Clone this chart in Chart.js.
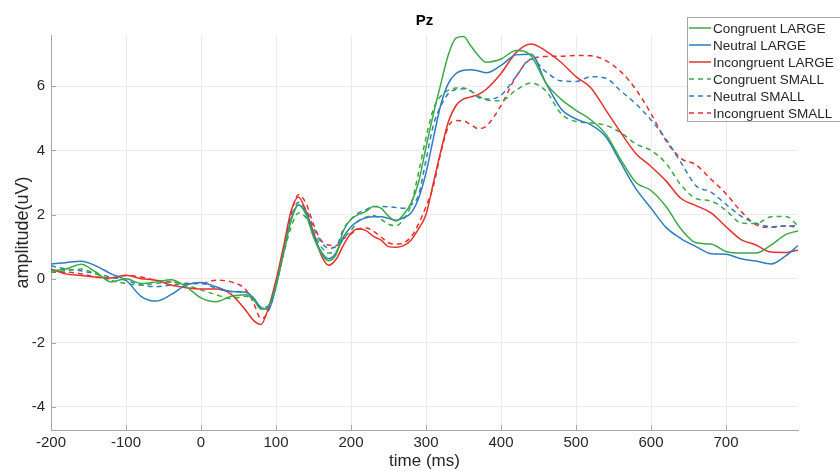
<!DOCTYPE html>
<html>
<head>
<meta charset="utf-8">
<script src="https://cdn.jsdelivr.net/npm/chart.js@4.4.1/dist/chart.umd.min.js"></script>
<style>
  html, body { margin: 0; padding: 0; background: #fff; }
  #wrap { width: 840px; height: 472px; }
</style>
</head>
<body>
<div id="wrap"><canvas id="erp" width="840" height="472"></canvas></div>
<script>
// Time axis (ms) shared by every waveform
const times = [-200, -180, -160, -140, -120, -100, -80, -60, -40, -20, 0, 20, 40, 60, 70, 80, 90,
  100, 110, 120, 130, 140, 150, 160, 170, 180, 190, 200, 210, 220, 230, 240, 250, 260, 270, 280, 290,
  300, 310, 320, 330, 340, 350, 360, 370, 380, 400, 420, 440, 460, 480, 500, 520, 540, 560, 580, 600,
  620, 640, 660, 680, 700, 720, 740, 760, 780, 796];

// Amplitudes (uV)
const congruentLarge = [0.25, 0.3, 0.45, 0.2, -0.1, 0.0, -0.15, -0.1, -0.03, -0.25, -0.6, -0.72, -0.55, -0.5, -0.65, -0.95, -0.85,
  -0.2, 0.8, 1.8, 2.3, 2.0, 1.3, 0.8, 0.56, 0.75, 1.5, 1.85, 2.0, 2.1, 2.25, 2.2, 1.95, 1.8, 2.0, 2.35, 3.0,
  4.1, 5.15, 6.1, 7.0, 7.5, 7.55, 7.25, 6.95, 6.75, 6.85, 7.12, 6.95, 6.1, 5.6, 5.25, 4.95, 4.5, 3.7, 3.0, 2.75,
  2.25, 1.55, 1.12, 1.08, 0.85, 0.8, 0.8, 1.05, 1.38, 1.49];
const neutralLarge = [0.46, 0.5, 0.54, 0.4, 0.15, -0.05, -0.55, -0.7, -0.5, -0.2, -0.12, -0.25, -0.4, -0.42, -0.6, -0.9, -0.95,
  -0.25, 0.8, 1.85, 2.3, 2.05, 1.35, 0.85, 0.62, 0.8, 1.3, 1.62, 1.8, 1.9, 1.93, 1.93, 1.88, 1.82, 1.9, 2.05, 2.5,
  3.3, 4.4, 5.45, 6.1, 6.4, 6.5, 6.52, 6.48, 6.42, 6.65, 6.98, 7.0, 6.1, 5.3, 4.98, 4.8, 4.42, 3.6, 2.8, 2.2,
  1.6, 1.25, 1.0, 0.78, 0.76, 0.62, 0.55, 0.46, 0.72, 1.03];
const incongruentLarge = [0.3, 0.15, 0.1, 0.05, 0.02, 0.11, 0.0, -0.05, -0.2, -0.28, -0.32, -0.32, -0.48, -1.0, -1.3, -1.43, -0.9,
  -0.05, 1.0, 2.1, 2.55, 2.1, 1.45, 0.75, 0.42, 0.6, 1.05, 1.42, 1.56, 1.5, 1.32, 1.2, 1.0, 0.98, 1.03, 1.2, 1.55,
  2.0, 3.0, 4.0, 4.9, 5.4, 5.6, 5.67, 5.75, 5.9, 6.4, 7.05, 7.32, 7.1, 6.75, 6.3, 5.95, 5.25, 4.55, 3.9, 3.5,
  3.05, 2.5, 2.28, 2.05, 1.62, 1.22, 1.05, 0.83, 0.82, 0.89];
const congruentSmall = [0.2, 0.25, 0.3, 0.15, -0.05, -0.15, -0.2, -0.15, -0.1, -0.2, -0.35, -0.5, -0.62, -0.55, -0.65, -0.9, -0.9,
  -0.2, 0.75, 1.6, 2.05, 1.9, 1.45, 1.0, 0.8, 0.85, 1.25, 1.5, 1.8, 1.92, 1.97, 1.85, 1.7, 1.65, 1.85, 2.3, 3.3,
  4.4, 5.3, 5.7, 5.88, 5.95, 5.95, 5.85, 5.7, 5.58, 5.55, 5.88, 6.1, 5.85, 5.15, 4.9, 4.86, 4.78, 4.55, 4.2, 4.0,
  3.6, 2.92, 2.5, 2.42, 2.13, 1.74, 1.72, 1.93, 1.94, 1.65];
const neutralSmall = [0.4, 0.3, 0.25, 0.15, 0.05, -0.05, -0.2, -0.25, -0.2, -0.15, -0.15, -0.3, -0.4, -0.42, -0.6, -0.9, -0.85,
  -0.15, 0.85, 1.85, 2.38, 2.15, 1.6, 1.15, 0.95, 1.0, 1.55, 1.85, 2.05, 2.15, 2.25, 2.25, 2.24, 2.22, 2.2, 2.3, 2.6,
  3.7, 4.8, 5.4, 5.78, 5.9, 5.92, 5.85, 5.65, 5.6, 5.72, 6.3, 6.85, 6.45, 6.17, 6.15, 6.3, 6.25, 5.85, 5.45, 4.95,
  4.35, 3.62, 2.9, 2.7, 2.32, 1.95, 1.73, 1.62, 1.64, 1.65];
const incongruentSmall = [0.2, 0.2, 0.15, 0.05, 0.0, 0.1, 0.05, -0.05, -0.1, -0.15, -0.15, -0.05, -0.1, -0.35, -0.75, -1.25, -1.0,
  -0.2, 0.9, 2.0, 2.62, 2.35, 1.7, 1.2, 1.05, 1.03, 1.25, 1.4, 1.55, 1.58, 1.48, 1.3, 1.12, 1.08, 1.12, 1.3, 1.7,
  2.25, 2.9, 3.95, 4.75, 4.93, 4.92, 4.8, 4.68, 4.75, 5.4, 6.3, 6.85, 6.93, 6.94, 6.96, 6.95, 6.8, 6.45, 5.9, 5.15,
  4.3, 3.75, 3.55, 3.1, 2.65, 2.1, 1.68, 1.6, 1.65, 1.6];

const seriesNames = ['Congruent LARGE', 'Neutral LARGE', 'Incongruent LARGE',
  'Congruent SMALL', 'Neutral SMALL', 'Incongruent SMALL'];
const seriesValues = [congruentLarge, neutralLarge, incongruentLarge,
  congruentSmall, neutralSmall, incongruentSmall];

// Tick labels
const xTicks = [-200, -100, 0, 100, 200, 300, 400, 500, 600, 700];
const yTicks = [-4, -2, 0, 2, 4, 6];

const GREEN = '#3aaa47';
const BLUE = '#2d7dc0';
const RED = '#e5302c';
const seriesColors = [GREEN, BLUE, RED, GREEN, BLUE, RED];
const DASH = [5, 4];

const FONT = '"Liberation Sans", Arial, sans-serif';
const TEXT = '#262626';
const AXIS = '#a6a6a6';

const datasets = seriesNames.map((name, i) => ({
  label: name,
  data: times.map((t, k) => ({ x: t, y: seriesValues[i][k] })),
  borderColor: seriesColors[i],
  borderWidth: 1.5,
  borderDash: i >= 3 ? DASH : [],
  pointRadius: 0,
  fill: false,
  cubicInterpolationMode: 'monotone'
}));

// Title, inward tick marks and boxed legend drawn over the plot, as in the figure
const overlayPlugin = {
  id: 'overlay',
  afterDraw(chart) {
    const ctx = chart.ctx;
    const area = chart.chartArea;
    const xs = chart.scales.x;
    const ys = chart.scales.y;
    ctx.save();

    // inward ticks
    ctx.strokeStyle = AXIS;
    ctx.lineWidth = 1;
    ctx.beginPath();
    xTicks.forEach(v => {
      const px = Math.round(xs.getPixelForValue(v)) + 0.5;
      ctx.moveTo(px, area.bottom);
      ctx.lineTo(px, area.bottom - 5);
    });
    yTicks.forEach(v => {
      const py = Math.round(ys.getPixelForValue(v)) + 0.5;
      ctx.moveTo(area.left, py);
      ctx.lineTo(area.left + 5, py);
    });
    ctx.stroke();

    ctx.fillStyle = '#000';
    ctx.font = 'bold 15px ' + FONT;
    ctx.textAlign = 'center';
    ctx.textBaseline = 'middle';
    ctx.fillText('Pz', (area.left + area.right) / 2, 21);

    // legend box
    const bx = 687.5, by = 17.5;
    ctx.fillStyle = '#fff';
    ctx.fillRect(bx, by, 170, 104);
    ctx.strokeStyle = AXIS;
    ctx.strokeRect(bx, by, 170, 104);

    ctx.font = '13.5px ' + FONT;
    ctx.textAlign = 'left';
    chart.data.datasets.forEach((ds, i) => {
      const y = 28 + i * 17;
      ctx.beginPath();
      ctx.setLineDash(ds.borderDash);
      ctx.strokeStyle = ds.borderColor;
      ctx.lineWidth = 1.5;
      ctx.moveTo(689, y);
      ctx.lineTo(711, y);
      ctx.stroke();
      ctx.setLineDash([]);
      ctx.fillStyle = TEXT;
      ctx.fillText(ds.label, 713, y + 1);
    });
    ctx.restore();
  }
};

new Chart(document.getElementById('erp'), {
  type: 'line',
  data: { datasets },
  plugins: [overlayPlugin],
  options: {
    responsive: false,
    animation: false,
    layout: { padding: { top: 35, right: 42, left: 0, bottom: 0 } },
    plugins: {
      legend: { display: false },
      tooltip: { enabled: false }
    },
    scales: {
      x: {
        type: 'linear',
        min: -200,
        max: 796,
        afterBuildTicks: s => { s.ticks = xTicks.map(v => ({ value: v })); },
        afterFit: s => { s.height = 42; },
        grid: { color: '#ebebeb', drawTicks: false },
        border: { color: AXIS },
        ticks: { color: TEXT, font: { family: FONT, size: 15 }, padding: 4, maxRotation: 0 },
        title: { display: true, text: 'time (ms)', color: TEXT,
                 font: { family: FONT, size: 17 }, padding: { top: 0, bottom: 0 } }
      },
      y: {
        type: 'linear',
        min: -4.72,
        max: 7.6,
        afterBuildTicks: s => { s.ticks = yTicks.map(v => ({ value: v })); },
        afterFit: s => { s.width = 51; },
        grid: { color: '#ebebeb', drawTicks: false },
        border: { color: AXIS },
        ticks: { color: TEXT, font: { family: FONT, size: 15 }, padding: 6 },
        title: { display: true, text: 'amplitude(uV)', color: TEXT,
                 font: { family: FONT, size: 18 }, padding: { top: 12, bottom: 0 } }
      }
    }
  }
});
</script>
</body>
</html>
